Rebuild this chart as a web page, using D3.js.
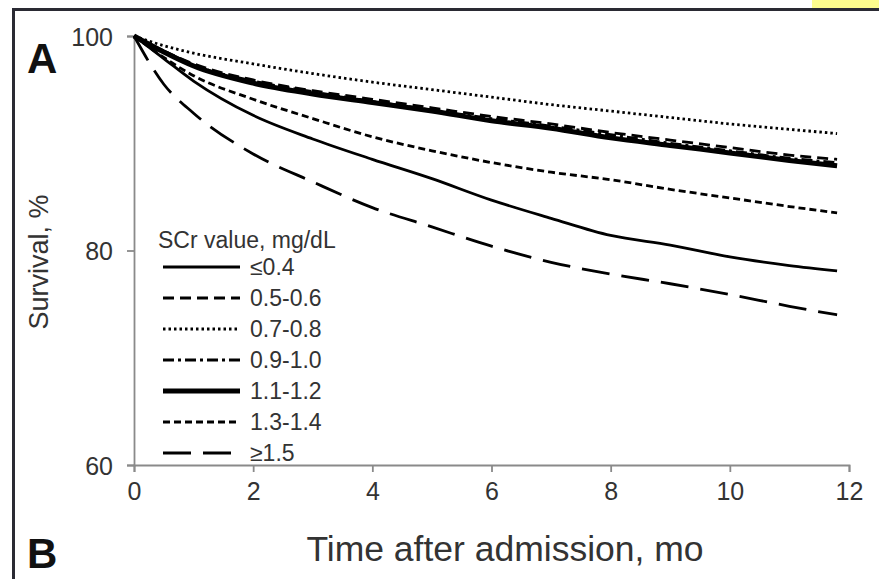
<!DOCTYPE html>
<html>
<head>
<meta charset="utf-8">
<script src="https://cdn.jsdelivr.net/npm/d3@7"></script>
<style>
  body { margin: 0; background: #fff; }
  svg { display: block; font-family: "Liberation Sans", Arial, sans-serif; }
</style>
</head>
<body>
<svg id="chart" width="879" height="579"></svg>
<script>
// months after admission at which survival was read
const months = [0, 0.5, 1, 2, 3, 4, 5, 6, 7, 8, 9, 10, 11, 11.8];

const groups = ["≤0.4", "0.5-0.6", "0.7-0.8", "0.9-1.0", "1.1-1.2", "1.3-1.4", "≥1.5"];

const survLe04   = [100, 97.9, 95.8, 92.6, 90.4, 88.5, 86.7, 84.7, 83.0, 81.4, 80.5, 79.4, 78.6, 78.1];
const surv0506   = [100, 98.6, 97.4, 95.9, 94.9, 94.1, 93.3, 92.5, 91.8, 91.0, 90.3, 89.6, 88.9, 88.5];
const surv0708   = [100, 99.1, 98.4, 97.4, 96.5, 95.7, 95.0, 94.3, 93.6, 93.0, 92.4, 91.8, 91.3, 90.9];
const surv0910   = [100, 98.6, 97.3, 95.8, 94.8, 93.9, 93.1, 92.3, 91.6, 90.8, 90.0, 89.3, 88.6, 88.2];
const surv1112   = [100, 98.5, 97.2, 95.6, 94.6, 93.8, 93.0, 92.1, 91.4, 90.5, 89.8, 89.1, 88.4, 87.9];
const surv1314   = [100, 98.0, 96.3, 94.1, 92.3, 90.6, 89.3, 88.2, 87.3, 86.6, 85.7, 84.9, 84.1, 83.5];
const survGe15   = [100, 95.5, 92.8, 89.0, 86.4, 84.0, 82.2, 80.4, 78.9, 77.8, 76.9, 75.9, 74.8, 74.0];

const xTicks = [0, 2, 4, 6, 8, 10, 12];
const yTicks = [60, 80, 100];

const seriesValues = [survLe04, surv0506, surv0708, surv0910, surv1112, surv1314, survGe15];
// line style per group: dash pattern and width
const styles = [
  {dash: null, w: 2.8},
  {dash: "11,6", w: 2.8},
  {dash: "2.5,3", w: 2.8},
  {dash: "11,4,3,4", w: 2.8},
  {dash: null, w: 5},
  {dash: "7,4", w: 2.8},
  {dash: "28,12", w: 2.8}
];

const svg = d3.select("#chart");

// frame and corner mark
svg.append("rect").attr("x", 812).attr("y", 0).attr("width", 67).attr("height", 9).attr("fill", "#fdfc8e");
svg.append("line").attr("x1", 12).attr("x2", 879).attr("y1", 9.5).attr("y2", 9.5)
  .attr("stroke", "#2a2a33").attr("stroke-width", 3);
svg.append("line").attr("x1", 13.5).attr("x2", 13.5).attr("y1", 8).attr("y2", 579)
  .attr("stroke", "#2a2a33").attr("stroke-width", 3);

const x = d3.scaleLinear().domain([0, 12]).range([134, 849]);
const y = d3.scaleLinear().domain([60, 100]).range([465, 36]);

const axisColor = "#8a8a8a";

// x axis
const gx = svg.append("g").attr("transform", "translate(0," + y(60) + ")")
  .call(d3.axisBottom(x).tickValues(xTicks).tickSize(7).tickPadding(10).tickFormat(d3.format("d")));
// y axis
const gy = svg.append("g").attr("transform", "translate(" + x(0) + ",0)")
  .call(d3.axisLeft(y).tickValues(yTicks).tickSize(7).tickPadding(14).tickFormat(d3.format("d")));

[gx, gy].forEach(g => {
  g.select(".domain").attr("stroke", axisColor).attr("stroke-width", 1.8);
  g.selectAll(".tick line").attr("stroke", axisColor).attr("stroke-width", 1.8);
  g.selectAll("text").attr("fill", "#333").attr("font-size", 25)
    .attr("font-family", "'Liberation Sans', Arial, sans-serif");
});
gy.selectAll(".tick text").attr("dy", "0.36em");

const line = d3.line()
  .x((d, i) => x(months[i]))
  .y(d => y(d))
  .curve(d3.curveMonotoneX);

svg.append("g").selectAll("path")
  .data(seriesValues)
  .join("path")
  .attr("d", line)
  .attr("fill", "none")
  .attr("stroke", "#000")
  .attr("stroke-width", (d, i) => styles[i].w)
  .attr("stroke-dasharray", (d, i) => styles[i].dash)
  .attr("stroke-linejoin", "round");

// legend
const legend = svg.append("g").attr("transform", "translate(158,0)");
legend.append("text").attr("x", 0).attr("y", 248).attr("font-size", 23).attr("fill", "#333")
  .text("SCr value, mg/dL");
const rows = legend.selectAll("g.row").data(groups).join("g")
  .attr("class", "row")
  .attr("transform", (d, i) => "translate(0," + (267 + i * 31) + ")");
rows.append("line").attr("x1", 5).attr("x2", 82).attr("y1", 0).attr("y2", 0)
  .attr("stroke", "#000")
  .attr("stroke-width", (d, i) => styles[i].w)
  .attr("stroke-dasharray", (d, i) => styles[i].dash);
rows.append("text").attr("x", 92).attr("y", 0).attr("dy", "0.36em")
  .attr("font-size", 23).attr("fill", "#333").text(d => d);

// axis titles
svg.append("text").attr("transform", "translate(48,262) rotate(-90)")
  .attr("text-anchor", "middle").attr("font-size", 27).attr("fill", "#333")
  .text("Survival, %");
svg.append("text").attr("x", 505).attr("y", 561).attr("text-anchor", "middle")
  .attr("font-size", 35.5).attr("fill", "#333")
  .text("Time after admission, mo");

// panel letters
svg.append("text").attr("x", 27).attr("y", 73).attr("font-size", 42).attr("font-weight", "bold")
  .attr("fill", "#111").text("A");
svg.append("text").attr("x", 27).attr("y", 568).attr("font-size", 42).attr("font-weight", "bold")
  .attr("fill", "#111").text("B");
</script>
</body>
</html>
